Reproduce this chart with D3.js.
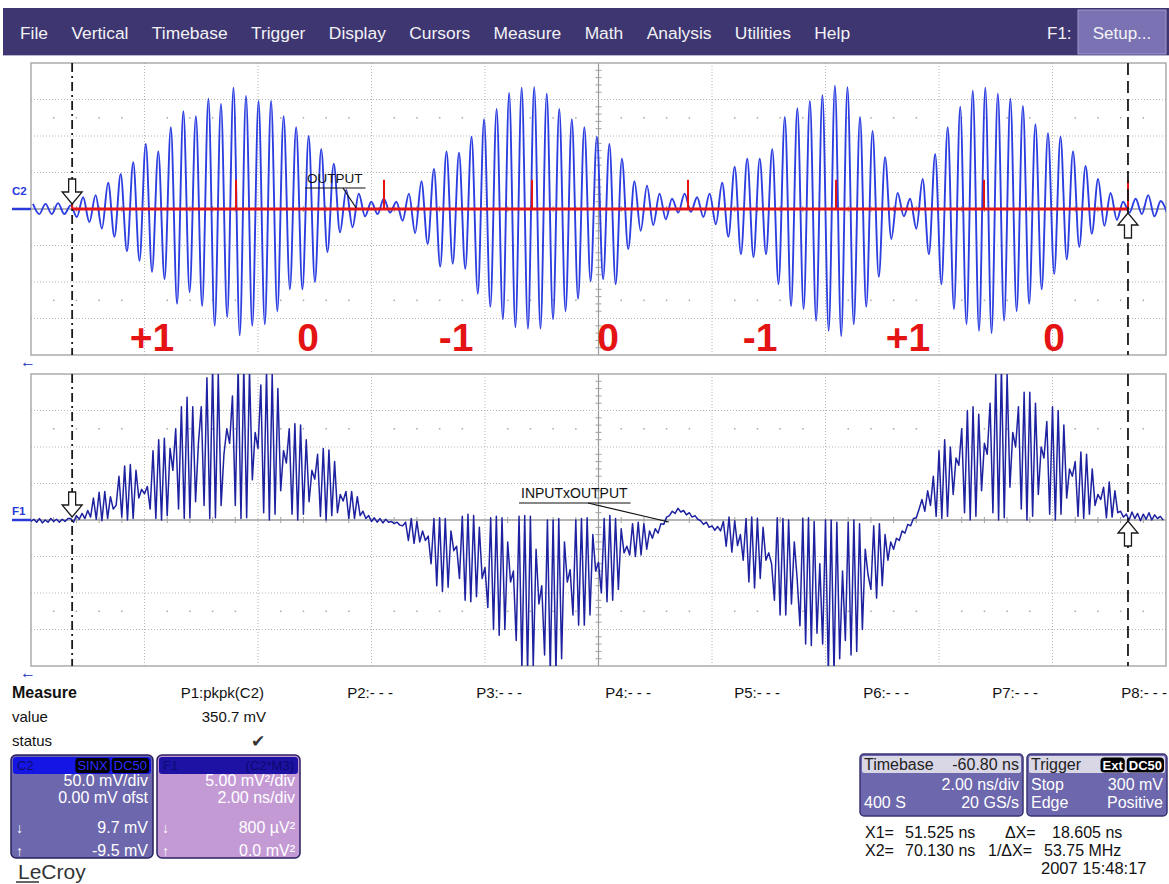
<!DOCTYPE html>
<html><head><meta charset="utf-8">
<script src="https://cdnjs.cloudflare.com/ajax/libs/d3/7.8.5/d3.min.js"></script>
<style>
body{margin:0;background:#fff;}
svg{display:block;font-family:"Liberation Sans",Arial,Helvetica,sans-serif;}
</style>
</head><body>
<svg id="c" width="1169" height="884"></svg>
<script>
// ---------------- DATA ----------------
const menuItems = ["File","Vertical","Timebase","Trigger","Display","Cursors","Measure","Math","Analysis","Utilities","Help"];

// C2 (OUTPUT) trace: successive extrema (mV), one every half carrier period
const c2Start = 50.835;      // ns
const c2Step = 0.1104;       // ns between extrema
const c2Extrema = [7,-7,7,-7,8,-7,5,-11,16,-18,19,-27,36,-38,48,-58,64,-71,89,-86,
79,-96,112,-130,134,-114,127,-133,151,-160,144,-148,166,-173,155,-160,148,-158,148,-140,
127,-110,112,-110,100,-100,82,-59,62,-32,26,-25,21,-10,10,-7,14,-5,10,-16,
21,-33,38,-48,55,-79,79,-75,77,-82,99,-116,123,-134,137,-151,159,-162,166,-164,
167,-164,158,-151,137,-140,123,-123,112,-99,99,-96,89,-103,69,-55,38,-30,32,-22,
21,-14,14,-5,21,-4,16,-11,21,-21,36,-38,58,-62,69,-66,69,-62,82,-103,
126,-133,138,-137,148,-153,156,-167,169,-174,167,-158,126,-134,107,-93,71,-41,22,-10,
14,-27,41,-62,75,-103,112,-137,140,-158,162,-167,166,-170,158,-153,151,-140,141,-130,
116,-110,104,-89,99,-69,79,-52,59,-34,41,-23,22,-15,10,-5,14,-7,19,-10,11,-5];

// F1 = C2*M3 trace: 400 samples (mV²), 0.05 ns apart
const f1Start = 50.8, f1Step = 0.05;
const f1Samples = [
-0.2,0.1,-0.3,0.2,-0.4,0,-0.3,0.2,-0.2,0.1,-0.3,0.1,-0.2,0.2,
0.2,-0.3,0.6,0.1,0.9,0.2,1.3,
0.4,3.0,0.1,3.8,-0.1,3.9,0.2,3.2,1.5,
2.0,6.0,0.4,7.4,0.0,7.6,0.2,6.8,
3.0,4.2,3.6,4.6,
1.5,9.5,0.2,11.0,0.0,11.2,0.6,
9.8,6.8,
12.5,1.5,15.5,0.2,16.8,0.3,15.5,2.5,
10.5,
15.5,2.0,19.5,0.2,21,0.3,20,2.0,
9.0,12.5,10.5,
17.0,2.0,21,0.2,21,0.3,20.5,
5.5,12.0,9.8,
18.5,1.0,20.5,0.0,20,0.8,18.0,
4.0,9.5,7.8,
12.5,0.8,13.2,0.0,13.0,0.8,11.0,
2.5,6.8,5.6,
9.0,0.5,9.8,0.0,9.6,0.6,8.0,
1.0,3.5,2.6,
3.9,0.2,3.9,0.2,3.2,0.6,
1.2,0.2,0.6,-0.2,0.3,-0.3,0.2,-0.4,0.1,-0.3,-0.2,-0.5,-0.3,-0.7,
-0.8,-0.3,-2.8,0.2,-3.2,-0.2,-3.0,-1.5,-2.8,-2.2,
-6.0,0.2,-9.0,0.3,-9.8,0.2,-9.2,
-1.5,-4.2,-3.6,
-8.0,0.5,-11.0,0.8,-11.2,0.6,-10.5,
-1.0,-8.0,-6.5,
-12.0,0.3,-15.0,0.5,-15.8,0.3,-15.0,
-3.0,-8.5,-7.0,
-16.5,0.5,-20.5,0.6,-21,0.5,-20,
-4.0,-11.5,-9.0,
-18.5,0.0,-21,0.0,-21,0.2,-19.0,
-3.0,-8.5,-6.8,
-13.0,0.0,-14.4,0.2,-14.4,0.3,-13.0,
-2.0,-7.0,-5.8,
-10.0,0.2,-11.2,0.6,-11.0,0.2,-9.5,
-1.2,-4.5,-3.6,
-4.8,-0.5,-5.0,-0.3,-4.8,-0.5,-4.0,
-1.5,-2.5,-1.2,-1.8,-0.5,-0.6,0.4,0.6,1.2,0.9,1.6,1.1,1.3,0.7,1.0,0.4,0.6,0.1,-0.1,-0.6,-0.3,-1.0,-0.8,-1.4,-0.9,
-1.5,-0.2,-3.6,0.4,-4.4,-0.1,-3.5,-2.0,
-5.5,0.2,-8.5,0.4,-9.3,0.2,-8.0,-1.0,
-5.5,-4.5,-6.0,
-11.0,0.3,-13.0,0.2,-13.0,0.0,-11.5,
-3.0,-8.0,
-14.5,0.2,-17.0,0.3,-17.2,-0.2,-15.5,
-6.0,
-17.0,0.0,-21,0.0,-21,-0.3,-19.0,
-7.0,
-16.5,-0.3,-18.5,0.0,-18.0,-0.5,-15.0,
-4.0,-7.5,
-9.5,-0.8,-10.7,-0.5,-9.0,-2.0,
-5.5,-3.0,-4.0,-2.5,-2.8,-1.5,-1.8,-0.6,-0.8,0.2,0.3,
1.5,2.8,1.2,4.0,2.0,
6.0,0.5,9.5,0.2,11.0,0.5,10.0,
3.5,8.5,7.5,
12.5,1.0,15.0,0.0,15.5,0.5,14.5,
4.0,10.5,9.0,
16.0,1.0,20.0,0.0,21,0.3,20.0,
4.5,12.0,10.0,
15.5,1.5,17.5,0.0,17.5,0.5,16.0,
3.5,10.0,8.5,
13.5,0.8,15.5,0.0,15.0,0.8,13.0,
3.0,7.0,6.0,
8.0,0.5,9.3,0.2,9.0,0.8,7.0,
2.0,3.5,2.8,
4.5,0.3,5.2,0.4,4.0,
1.0,1.2,0.4,0.8,0.0,1.1,0.2,0.9,-0.1,0.8,0.1,1.0,0.0,0.7,0.2,0.5,0.0];

const timeDomain = [50.8, 70.8];           // ns, 2 ns/div
const c2Domain = [-200, 200];              // mV, 50 mV/div
const f1Domain = [-20, 20];                // mV², 5 mV²/div
const cursorTimes = [51.525, 70.130];
const bitEdges = [51.525, 54.412, 57.020, 59.628, 62.377, 64.985, 67.593, 70.130];
const bitLabels = ["+1","0","-1","0","-1","+1","0"];
const paramLabels = ["P1:pkpk(C2)","P2:- - -","P3:- - -","P4:- - -","P5:- - -","P6:- - -","P7:- - -","P8:- - -"];
const c2Box = ["50.0 mV/div","0.00 mV ofst","9.7 mV","-9.5 mV"];
const f1Box = ["5.00 mV\u00b2/div","2.00 ns/div","800 \u00b5V\u00b2","0.0 mV\u00b2"];

// ---------------- DRAW ----------------
const svg = d3.select("#c");

// menu bar
svg.append("rect").attr("x",3).attr("y",8).attr("width",1166).attr("height",47).attr("fill","#3e3671");
svg.append("line").attr("x1",3).attr("x2",1169).attr("y1",55.5).attr("y2",55.5).attr("stroke","#b8b4cc");
let mx = 20;
menuItems.forEach(t=>{
  const tx = svg.append("text").attr("x",mx).attr("y",39).attr("font-size",17.4).attr("fill","#f2f2f6").text(t);
  mx += tx.node().getComputedTextLength() + 23.4;
});
svg.append("text").attr("x",1047).attr("y",39).attr("font-size",17).attr("fill","#f2f2f6").text("F1:");
svg.append("rect").attr("x",1078).attr("y",10).attr("width",88).attr("height",44).attr("fill","#7a72b2").attr("stroke","#a09ad0");
svg.append("text").attr("x",1122).attr("y",39).attr("text-anchor","middle").attr("font-size",17).attr("fill","#f4f4f8").text("Setup...");

const x = d3.scaleLinear().domain(timeDomain).range([31,1166]);
const yTop = d3.scaleLinear().domain(c2Domain).range([355,63]);
const yBot = d3.scaleLinear().domain(f1Domain).range([666,374]);

function grid(y, id){
  const g = svg.append("g");
  const [x0,x1] = x.range(); const [yb,yt] = y.range();
  const xt = d3.range(11).map(i=>timeDomain[0]+2*i);
  const d = y.domain(); const step = (d[1]-d[0])/8;
  const yt8 = d3.range(9).map(i=>d[0]+step*i);
  xt.slice(1,-1).forEach((t,i)=>{
    g.append("line").attr("x1",x(t)).attr("x2",x(t)).attr("y1",yt).attr("y2",yb)
     .attr("stroke", i===4?"#9c9c9c":"#b4b4b4").attr("stroke-width",i===4?1.2:1)
     .attr("stroke-dasharray", i===4?null:"1,2");
  });
  yt8.slice(1,-1).forEach((v,i)=>{
    g.append("line").attr("x1",x0).attr("x2",x1).attr("y1",y(v)).attr("y2",y(v))
     .attr("stroke", i===3?"#9c9c9c":"#b4b4b4").attr("stroke-width",i===3?1.4:1)
     .attr("stroke-dasharray", i===3?null:"1,2");
  });
  const minor = d3.range(51).map(i=>timeDomain[0]+0.4*i).filter((t,i)=>i%5!==0);
  [d[0]+step*1.5, d[1]-step*1.5].forEach(v=>{
    minor.forEach(t=>g.append("rect").attr("x",x(t)-0.7).attr("y",y(v)-0.7).attr("width",1.5).attr("height",1.5).attr("fill","#a8a8a8"));
  });
  minor.forEach(t=>g.append("line").attr("x1",x(t)).attr("x2",x(t)).attr("y1",y(0)-3).attr("y2",y(0)+3).attr("stroke","#a0a0a0"));
  d3.range(41).map(i=>d[0]+step*i/5).filter((v,i)=>i%5!==0).forEach(v=>
    g.append("line").attr("x1",x(60.8)-3).attr("x2",x(60.8)+3).attr("y1",y(v)).attr("y2",y(v)).attr("stroke","#a0a0a0"));
  g.append("rect").attr("x",x0).attr("y",yt).attr("width",x1-x0).attr("height",yb-yt)
   .attr("fill","none").attr("stroke","#a6a6a6").attr("stroke-width",1.4);
  svg.append("clipPath").attr("id",id).append("rect").attr("x",x0).attr("y",yt).attr("width",x1-x0).attr("height",yb-yt);
}
grid(yTop,"clipTop");
grid(yBot,"clipBot");

// traces
const c2Pts = c2Extrema.map((v,k)=>[c2Start+k*c2Step, v]);
svg.append("path").attr("clip-path","url(#clipTop)")
  .attr("d", d3.line().x(d=>x(d[0])).y(d=>yTop(d[1])).curve(d3.curveMonotoneX)(c2Pts))
  .attr("fill","none").attr("stroke","#2c3ee0").attr("stroke-width",1.9).attr("stroke-linejoin","round");
const f1Pts = f1Samples.map((v,i)=>[f1Start+i*f1Step, v]);
svg.append("path").attr("clip-path","url(#clipBot)")
  .attr("d", d3.line().x(d=>x(d[0])).y(d=>yBot(d[1]))(f1Pts))
  .attr("fill","none").attr("stroke","#1e22a0").attr("stroke-width",1.5).attr("stroke-linejoin","round");

// trace markers
[[yTop,"C2",-14],[yBot,"F1",-5]].forEach(([y,lab,dy])=>{
  svg.append("line").attr("x1",12).attr("x2",31).attr("y1",y(0)).attr("y2",y(0)).attr("stroke","#2a3ad8").attr("stroke-width",2.5);
  svg.append("text").attr("x",12).attr("y",y(0)+dy).attr("font-size",11.5).attr("font-weight","bold").attr("fill","#2a3ad8").text(lab);
});
[362,673].forEach(yy=>svg.append("text").attr("x",20).attr("y",yy+5).attr("font-size",16).attr("fill","#2030c0").text("\u2190"));

// red bit overlay on top plot
const red = "#e41414";
svg.append("line").attr("x1",x(cursorTimes[0])).attr("x2",x(cursorTimes[1])).attr("y1",yTop(0)).attr("y2",yTop(0))
  .attr("stroke",red).attr("stroke-width",3);
bitEdges.forEach(t=>svg.append("line").attr("x1",x(t)).attr("x2",x(t)).attr("y1",yTop(0)).attr("y2",yTop(40))
  .attr("stroke",red).attr("stroke-width",2));
bitLabels.forEach((b,i)=>{
  svg.append("text").attr("x",(x(bitEdges[i])+x(bitEdges[i+1]))/2-2).attr("y",351)
    .attr("text-anchor","middle").attr("font-size",39).attr("font-weight","bold").attr("fill",red).text(b);
});

// cursors
const dashes = ["9,4,2,4","12,6"];
cursorTimes.forEach((t,i)=>{
  [yTop,yBot].forEach(y=>{
    svg.append("line").attr("x1",x(t)).attr("x2",x(t)).attr("y1",y.range()[1]).attr("y2",y.range()[0])
      .attr("stroke","#1a1a1a").attr("stroke-width",1.8).attr("stroke-dasharray",dashes[i]);
  });
});
function arrow(cx, tip, s){
  const pts = [[cx,tip],[cx-10,tip-12*s],[cx-3.5,tip-12*s],[cx-3.5,tip-25*s],[cx+3.5,tip-25*s],[cx+3.5,tip-12*s],[cx+10,tip-12*s]];
  svg.append("polygon").attr("points",pts.map(p=>p.join(",")).join(" "))
    .attr("fill","#ffffff").attr("stroke","#1a1a1a").attr("stroke-width",1.3);
}
arrow(x(cursorTimes[0]), yTop(0)-5, 1);
arrow(x(cursorTimes[1]), yTop(0)+4, -1);
arrow(x(cursorTimes[0]), yBot(0)-3, 1);
arrow(x(cursorTimes[1]), yBot(0)+1, -1);

// annotations
function note(label, tx, ty, fromX, toT, toY, fs){
  const t = svg.append("text").attr("x",tx).attr("y",ty).attr("font-size",fs).attr("fill","#111").text(label);
  const w = t.node().getComputedTextLength();
  svg.append("line").attr("x1",tx-2).attr("x2",tx+w+3).attr("y1",ty+5).attr("y2",ty+5).attr("stroke","#111").attr("stroke-width",1.2);
  svg.append("line").attr("x1",fromX).attr("x2",x(toT)).attr("y1",ty+5).attr("y2",toY).attr("stroke","#111").attr("stroke-width",1.2);
}
note("OUTPUT", 307, 183, 343, 56.53, yTop(0)-1, 13.5);
note("INPUTxOUTPUT", 521, 498, 588, 62.04, yBot(0)+2, 14);

// measure table
const colX = d3.scalePoint().domain(paramLabels).range([264,1167]);
svg.append("text").attr("x",12).attr("y",698).attr("font-size",16).attr("font-weight","bold").attr("fill","#111").text("Measure");
svg.append("text").attr("x",12).attr("y",722).attr("font-size",15).attr("fill","#111").text("value");
svg.append("text").attr("x",12).attr("y",746).attr("font-size",15).attr("fill","#111").text("status");
paramLabels.forEach(p=>svg.append("text").attr("x",colX(p)).attr("y",698).attr("text-anchor","end").attr("font-size",15).attr("fill","#111").text(p));
svg.append("text").attr("x",colX(paramLabels[0])+2).attr("y",722).attr("text-anchor","end").attr("font-size",15).attr("fill","#111").text("350.7 mV");
svg.append("text").attr("x",colX(paramLabels[0])-6).attr("y",747).attr("text-anchor","middle").attr("font-size",17).attr("fill","#333")
  .attr("font-family","DejaVu Sans").text("\u2714");

// channel boxes
function chanBox(bx, w, body, head, label, tagText, tags, lines){
  const g = svg.append("g");
  g.append("rect").attr("x",bx).attr("y",755).attr("width",w).attr("height",103).attr("rx",5).attr("fill",body).attr("stroke","#28215e").attr("stroke-width",1.5);
  g.append("rect").attr("x",bx+2).attr("y",757).attr("width",w-4).attr("height",17).attr("rx",3).attr("fill",head);
  g.append("text").attr("x",bx+6).attr("y",770).attr("font-size",13).attr("fill","#0c0c70").text(label);
  let rx = bx+w-4;
  tags.slice().reverse().forEach(tg=>{
    const t = g.append("text").attr("y",770).attr("font-size",13).attr("fill",tagText).attr("text-anchor","end").attr("x",rx-2).text(tg.t);
    const tw = t.node().getComputedTextLength();
    if(tg.bg) g.insert("rect","text:last-of-type").attr("x",rx-tw-4).attr("y",758).attr("width",tw+4).attr("height",15).attr("rx",3).attr("fill",tg.bg);
    t.raise();
    rx -= tw+6;
  });
  const ys = [786,803,833,856];
  lines.forEach((l,i)=>g.append("text").attr("x",bx+w-5).attr("y",ys[i]).attr("text-anchor","end").attr("font-size",16).attr("fill","#fff").text(l));
  g.append("text").attr("x",bx+5).attr("y",833).attr("font-size",14).attr("fill","#fff").text("\u2193");
  g.append("text").attr("x",bx+5).attr("y",856).attr("font-size",14).attr("fill","#fff").text("\u2191");
}
chanBox(11, 142, "#6d67ad", "#1616e4", "C2", "#2c2cff", [{t:"SINX",bg:"#000"},{t:"DC50",bg:"#000"}], c2Box);
chanBox(157, 143, "#c49ad5", "#1e12a4", "F1", "#0c0870", [{t:"(C2*M3)",bg:null}], f1Box);

// LeCroy logo
svg.append("text").attr("x",18).attr("y",879).attr("font-size",21).attr("fill","#333").text("LeCroy");
svg.append("line").attr("x1",16).attr("x2",39).attr("y1",882).attr("y2",882).attr("stroke","#333").attr("stroke-width",1.5);

// timebase & trigger boxes
function infoBox(bx, w, title, right, rows, tags){
  const g = svg.append("g");
  g.append("rect").attr("x",bx).attr("y",754).attr("width",w).attr("height",62).attr("rx",4).attr("fill","#6d67ad").attr("stroke","#3a3474").attr("stroke-width",1.5);
  g.append("rect").attr("x",bx+2).attr("y",756).attr("width",w-4).attr("height",17).attr("rx",2).attr("fill","#d9d6e6");
  g.append("text").attr("x",bx+4).attr("y",770).attr("font-size",16).attr("fill","#222").text(title);
  if(right) g.append("text").attr("x",bx+w-4).attr("y",770).attr("text-anchor","end").attr("font-size",16).attr("fill","#222").text(right);
  let rx = bx+w-3;
  (tags||[]).slice().reverse().forEach(tg=>{
    const t = g.append("text").attr("y",769.5).attr("font-size",13).attr("font-weight","bold").attr("fill","#fff").attr("text-anchor","end").attr("x",rx-2).text(tg);
    const tw = t.node().getComputedTextLength();
    g.insert("rect","text:last-of-type").attr("x",rx-tw-4).attr("y",757.5).attr("width",tw+4).attr("height",15).attr("rx",4).attr("fill","#000");
    t.raise(); rx -= tw+6;
  });
  rows.forEach((r,i)=>{
    const yy = 790+18*i;
    if(r[0]) g.append("text").attr("x",bx+4).attr("y",yy).attr("font-size",16).attr("fill","#fff").text(r[0]);
    if(r[1]) g.append("text").attr("x",bx+w-4).attr("y",yy).attr("text-anchor","end").attr("font-size",16).attr("fill","#fff").text(r[1]);
  });
}
infoBox(860, 163, "Timebase", "-60.80 ns", [["","2.00 ns/div"],["400 S","20 GS/s"]]);
infoBox(1027, 140, "Trigger", null, [["Stop","300 mV"],["Edge","Positive"]], ["Ext","DC50"]);

// cursor readouts
const rd = [["X1=",865,838],["51.525 ns",905,838],["\u0394X=",1005,838],["18.605 ns",1052,838],
            ["X2=",865,856],["70.130 ns",905,856],["1/\u0394X=",988,856],["53.75 MHz",1044,856]];
rd.forEach(r=>svg.append("text").attr("x",r[1]).attr("y",r[2]).attr("font-size",16).attr("fill","#111").text(r[0]));
svg.append("text").attr("x",1041).attr("y",874).attr("font-size",16.5).attr("fill","#111").text("2007 15:48:17");
</script>
</body></html>
